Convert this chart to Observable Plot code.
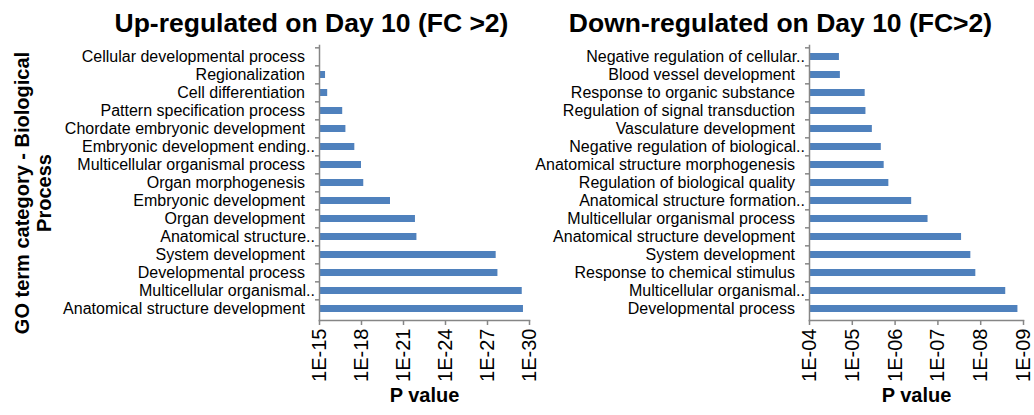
<!DOCTYPE html>
<html><head><meta charset="utf-8">
<script src="https://cdn.jsdelivr.net/npm/d3@7"></script>
<script src="https://cdn.jsdelivr.net/npm/@observablehq/plot@0.6"></script>
<style>
body{margin:0;background:#fff;font-family:"Liberation Sans",Arial,sans-serif;}
#wrap{display:flex;width:1034px;height:415px;overflow:hidden;}
.fig{position:relative;}
.title{height:40px;font-weight:bold;font-size:26.5px;line-height:46px;white-space:nowrap;text-align:center;color:#000;overflow:visible;}
#left .title{padding-left:83px;width:457px;}
#right .title{padding-right:13px;width:481px;}
svg{overflow:visible;display:block;}
</style></head><body>
<div id="wrap"><div class="fig" id="left"></div><div class="fig" id="right"></div></div>
<script>
// ---- data ----
const upTitle = "Up-regulated on Day 10 (FC >2)";
const downTitle = "Down-regulated on Day 10 (FC>2)";
const yTitle = "GO term category - Biological\nProcess";
const xTitle = "P value";

const upCategories = [
  "Cellular developmental process",
  "Regionalization",
  "Cell differentiation",
  "Pattern specification process",
  "Chordate embryonic development",
  "Embryonic development ending..",
  "Multicellular organismal process",
  "Organ morphogenesis",
  "Embryonic development",
  "Organ development",
  "Anatomical structure..",
  "System development",
  "Developmental process",
  "Multicellular organismal..",
  "Anatomical structure development"
];
const upPValues = [8.5e-16, 3.7e-16, 2.6e-16, 2.2e-17, 1.3e-17, 3.0e-18, 1.0e-18, 6.9e-19,
  8.5e-21, 1.4e-22, 1.1e-22, 2.4e-28, 1.8e-28, 3.3e-30, 2.7e-30];
const upTicks = [1e-15, 1e-18, 1e-21, 1e-24, 1e-27, 1e-30];

const downCategories = [
  "Negative regulation of cellular..",
  "Blood vessel development",
  "Response to organic substance",
  "Regulation of signal transduction",
  "Vasculature development",
  "Negative regulation of biological..",
  "Anatomical structure morphogenesis",
  "Regulation of biological quality",
  "Anatomical structure formation..",
  "Multicellular organismal process",
  "Anatomical structure development",
  "System development",
  "Response to chemical stimulus",
  "Multicellular organismal..",
  "Developmental process"
];
const downPValues = [2.0e-5, 1.9e-5, 5.0e-6, 4.8e-6, 3.4e-6, 2.1e-6, 1.8e-6, 1.4e-6,
  4.1e-7, 1.7e-7, 2.8e-8, 1.7e-8, 1.3e-8, 2.6e-9, 1.35e-9];
const downTicks = [1e-4, 1e-5, 1e-6, 1e-7, 1e-8, 1e-9];

// ---- drawing ----
const BAR = "#4F81BD", AX = "#868686";
const H = 375, MT = 5, MB = 95;
const fmt = d => "1E-" + String(Math.round(-Math.log10(d))).padStart(2, "0");

function panel({el, title, cats, vals, ticks, width, ml, mr, withYTitle}) {
  const data = cats.map((c, i) => ({cat: c, p: vals[i]}));
  const step = (H - MT - MB) / cats.length;
  const marks = [
    Plot.barX(data, {y: "cat", x1: () => ticks[0], x2: "p", fill: BAR}),
    Plot.frame({anchor: "left", stroke: AX, strokeWidth: 1.5}),
    Plot.frame({anchor: "bottom", stroke: AX, strokeWidth: 1.5}),
    Plot.axisY({tickSize: 4, tickFormat: () => "", dy: -step / 2, stroke: AX, strokeWidth: 1.5, label: null}),
    Plot.axisY({tickSize: 0, tickPadding: 14.5, fontSize: 16, fill: "#000", label: null}),
    Plot.axisX({ticks, tickFormat: fmt, tickRotate: -90, tickSize: 5, tickPadding: 3, fontSize: 20,
      stroke: AX, strokeWidth: 1.5, fill: "#000", label: null}),
    Plot.text([xTitle], {frameAnchor: "bottom", dy: 81, fontSize: 20, fontWeight: "bold", fill: "#000"})
  ];
  if (withYTitle) marks.push(Plot.text([yTitle], {frameAnchor: "left", textAnchor: "middle", rotate: -90,
    dx: -287, dy: 10, fontSize: 20, fontWeight: "bold", lineHeight: 1.1, fill: "#000"}));
  const svg = Plot.plot({
    width, height: H, marginTop: MT, marginBottom: MB, marginLeft: ml, marginRight: mr,
    style: {fontFamily: "Liberation Sans, Arial, sans-serif", overflow: "visible", background: "transparent"},
    x: {type: "log", domain: [ticks[0], ticks[ticks.length - 1]], axis: null},
    y: {domain: cats, paddingInner: 0.6, paddingOuter: 0.3, axis: null},
    marks
  });
  d3.select(svg).selectAll("text").filter(function() { return this.textContent.endsWith(".."); })
    .attr("dx", 10);
  const t = document.createElement("div");
  t.className = "title"; t.textContent = title;
  el.appendChild(t); el.appendChild(svg);
}

panel({el: document.getElementById("left"), title: upTitle, cats: upCategories, vals: upPValues,
  ticks: upTicks, width: 540, ml: 319, mr: 11, withYTitle: true});
panel({el: document.getElementById("right"), title: downTitle, cats: downCategories, vals: downPValues,
  ticks: downTicks, width: 494, ml: 269, mr: 11, withYTitle: false});
</script></body></html>
